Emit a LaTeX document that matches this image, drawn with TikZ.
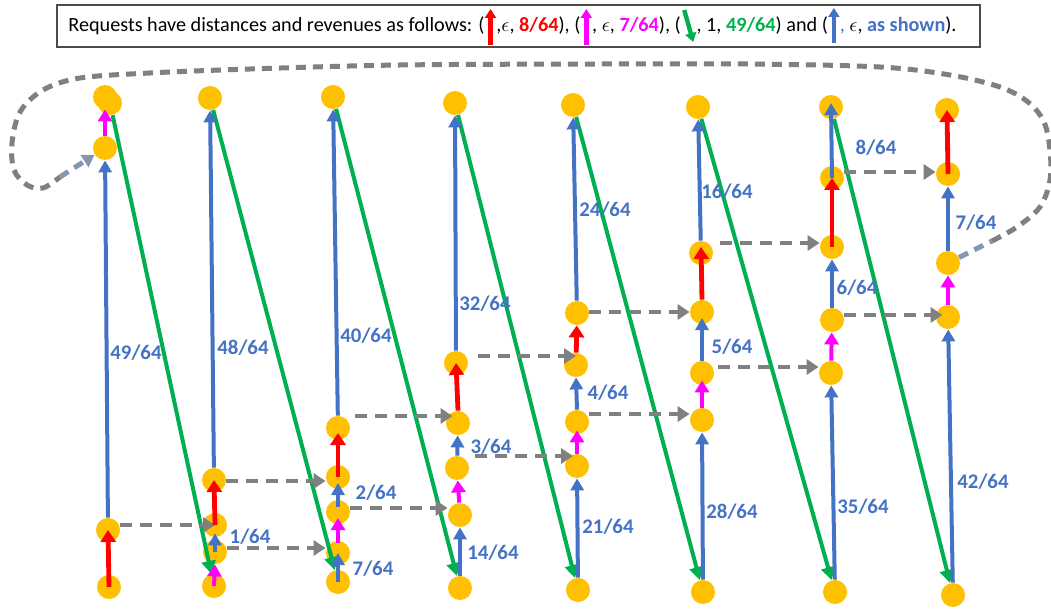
\documentclass[tikz,border=0pt]{standalone}
\usepackage{fontspec}
\setmainfont{Carlito}
\usetikzlibrary{arrows.meta}
\definecolor{gold}{HTML}{FFC000}
\definecolor{bl}{HTML}{4472C4}
\definecolor{gr}{HTML}{00B050}
\definecolor{mg}{HTML}{FF00FF}
\definecolor{rd}{HTML}{FF0000}
\definecolor{gy}{HTML}{808080}
\definecolor{sl}{HTML}{8497B0}
\begin{document}
\begin{tikzpicture}[x=0.5pt,y=-0.5pt,
 dot/.style={circle,fill=gold,inner sep=0pt,minimum size=12pt},
 tipA/.style={-{Triangle[length=6pt,width=6.5pt]}},
 bluearr/.style={draw=bl,line width=2pt,tipA},
 greenarr/.style={draw=gr,line width=2pt,-{Triangle[length=6.5pt,width=7pt]}},
 redarr/.style={draw=rd,line width=2.4pt,-{Triangle[length=6pt,width=7.5pt]}},
 magarr/.style={draw=mg,line width=2pt,-{Triangle[length=6pt,width=7pt]}},
 grayarr/.style={draw=gy,line width=2.2pt,dash pattern=on 6pt off 4pt,-{Triangle[length=6pt,width=7.5pt]}},
 curvedash/.style={draw=gy,line width=2.5pt,dash pattern=on 5pt off 3.5pt},
 slatedash/.style={draw=sl,line width=2.5pt,dash pattern=on 5pt off 3.5pt},
 lab/.style={text=bl,font=\fontsize{10.4pt}{12pt}\selectfont\bfseries,inner sep=0pt},
 lt/.style={font=\fontsize{10.1pt}{12pt}\selectfont,inner sep=0pt,anchor=base west},
 legtip/.style={-{Triangle[length=4.5pt,width=5.5pt]}},
]
\useasboundingbox (0,0) rectangle (1051,610);

% legend
\node[draw=gray!60!black,line width=0.7pt,minimum width=461.5pt,minimum height=21pt,inner sep=0pt] (legend) at (518.5,26) {};
\node[lt] (t1) at (68,32) {Requests have distances and revenues as follows: (};
\node[lt] (t2) at ([xshift=5.5pt]t1.base east) {,$\epsilon$, \textcolor{rd}{\bfseries 8/64}), (};
\node[lt] (t3) at ([xshift=5.5pt]t2.base east) {, $\epsilon$, \textcolor{mg}{\bfseries 7/64}), (};
\node[lt] (t4) at ([xshift=7.5pt]t3.base east) {, 1, \textcolor{gr}{\bfseries 49/64}) and (};
\node[lt] (t5) at ([xshift=5.5pt]t4.base east) {\textcolor{bl}{,} $\epsilon$, \textcolor{bl}{\bfseries as shown}).};
\draw[draw=rd,line width=2.2pt,legtip] ([shift={(5.5,13)}]t1.base east) -- ([shift={(5.5,-23)}]t1.base east);
\draw[draw=mg,line width=2.2pt,legtip] ([shift={(5.5,13)}]t2.base east) -- ([shift={(5.5,-23)}]t2.base east);
\draw[draw=gr,line width=2.2pt,legtip] ([shift={(3,-22)}]t3.base east) -- ([shift={(12,10)}]t3.base east);
\draw[draw=bl,line width=2.2pt,legtip] ([shift={(5.5,11)}]t4.base east) -- ([shift={(5.5,-24)}]t4.base east);

% nodes
\foreach \n/\x/\y in {A1/109/587,A2/108/530,A3/105/148,A4/105/97,A4x/110/103,
  B1/214/586,B2/215/552,B3/215/525,B4/214/480,B5/210/98,
  C1/338/582,C2/338/553,C3/338/512,C4/338/477,C5/338/428,C6/333/97,
  D1/460/588,D2/460/515,D3/457/468,D4/458/423,D5/456/363,D6/455/103,
  E1/578/590,E2/577/466,E3/577/422,E4/576/365,E5/577/313,E6/573/105,
  F1/703/592,F2/702/420,F3/702/373,F4/702/312,F5/701/253,F6/698/107,
  G1/835/592,G2/831/373,G3/832/320,G4/832/247,G5/832/178,G6/831/107,
  H1/953/595,H2/948/317,H3/948/263,H4/948/174,H5/947/110}
  \node[dot] (\n) at (\x,\y) {};

% green
\foreach \a/\b in {A4x/B1,B5/C1,C6/D1,D6/E1,E6/F1,F6/G1,G6/H1}
  \draw[greenarr] (\a) -- (\b);

% long blue
\foreach \a/\b in {A2/A3,B4/B5,C5/C6,D5/D6,E5/E6,F5/F6,D1/D2,E1/E2,F1/F2,G1/G2,H1/H2}
  \draw[bluearr] (\a) -- (\b);
\draw[bluearr] (G5.center) -- ([yshift=2pt]G6.center);

% gray dashed
\draw[grayarr] (A2.east|-0,525) -- (B3.center|-0,525);
\draw[grayarr] (B2.east|-0,548) -- (C2.west|-0,548);
\draw[grayarr] (B4.east|-0,481) -- (C4.west|-0,481);
\draw[grayarr] (C3.east|-0,508) -- (D2.west|-0,508);
\draw[grayarr,shorten <=2.5pt,shorten >=-3.5pt] (C5.east|-0,416) -- (D4.west|-0,416);
\draw[grayarr,shorten <=3pt,shorten >=2pt] (D3.east|-0,456) -- (E2.center|-0,456);
\draw[grayarr,shorten <=5pt] (D5.east|-0,356) -- (E4.center|-0,356);
\draw[grayarr] (E3.east|-0,414) -- (F2.west|-0,414);
\draw[grayarr] (E5.east|-0,312) -- (F4.west|-0,312);
\draw[grayarr,shorten <=2pt] (F3.east|-0,367) -- (G2.west|-0,367);
\draw[grayarr,shorten <=3.5pt] (F5.east|-0,243) -- (G4.west|-0,243);
\draw[grayarr,shorten >=-3.5pt] (G3.east|-0,315) -- (H2.west|-0,315);
\draw[grayarr] (G5.east|-0,172) -- (H4.west|-0,172);

% short blue
\draw[bluearr] (B2.center) -- ([yshift=2pt]B3.south);
\draw[bluearr] (C1.center) -- (C2.center);
\draw[bluearr] ([yshift=2.5pt]C3.center) -- ([yshift=-3pt]C4.center);
\draw[bluearr] (D3) -- (D4);
\draw[bluearr] (E3.north) -- (E4.south);
\draw[bluearr] (F3.north) -- ([yshift=-3pt]F4.center);
\draw[bluearr] (G3) -- (G4);
\draw[bluearr] (H3) -- (H4);
% magenta
\draw[magarr] (A3) -- (A4);
\draw[magarr] (B1.center) -- (B2.south);
\draw[magarr] ([yshift=5pt]C2.center) -- ([yshift=-3pt]C3.center);
\draw[magarr] (D2) -- (D3);
\draw[magarr] (E2.north) -- ([yshift=2pt]E3.south);
\draw[magarr] (F2.north) -- ([yshift=2.5pt]F3.south);
\draw[magarr] (G2) -- (G3);
\draw[magarr] (H2) -- (H3);
% red
\draw[redarr] (A1.center) -- (A2.center);
\draw[redarr] (B3.center) -- (B4.center);
\draw[redarr] (C4.center) -- ([yshift=-2.5pt]C5.center);
\draw[redarr] (D4.north) -- (D5.center);
\draw[redarr] (E4) -- (E5);
\draw[redarr] (F4.north) -- ([yshift=3pt]F5.center);
\draw[redarr] (G4.center) -- (G5.center);
\draw[redarr] (H4.center) -- (H5.center);

% loop curve
\coordinate (c1) at (992,241);
\coordinate (c2) at (60,177);
\draw[slatedash] (H3) -- (c1);
\draw[curvedash] plot[smooth,tension=0.55] coordinates {(c1) (1017,227) (1040,207) (1050,180) (1050,150) (1044,122) (1028,102) (1000,87) (950,75) (880,67) (750,64) (600,64) (400,65) (250,69) (150,73) (80,78) (43,90) (20,112) (12,143) (14,170) (27,185) (43,188) (c2)};
\draw[slatedash,-{Triangle[length=6pt,width=7pt]}] (c2) -- (A3);

% labels
\node[lab] (l49) at (136,353) {49/64};
\node[lab] (l48) at (243,348) {48/64};
\node[lab] (l40) at (366,336) {40/64};
\node[lab] (l1) at (250,537) {1/64};
\node[lab] (l2) at (376,493) {2/64};
\node[lab] (l7a) at (373,569) {7/64};
\node[lab] (l14) at (493,553) {14/64};
\node[lab] (l3) at (491,447) {3/64};
\node[lab] (l32) at (485,304) {32/64};
\node[lab] (l21) at (608,527) {21/64};
\node[lab] (l4) at (608,393) {4/64};
\node[lab] (l24) at (605,210) {24/64};
\node[lab] (l16) at (727,192) {16/64};
\node[lab] (l5) at (732,347) {5/64};
\node[lab] (l28) at (732,512) {28/64};
\node[lab] (l6) at (857,288) {6/64};
\node[lab] (l8) at (876,148) {8/64};
\node[lab] (l35) at (863,507) {35/64};
\node[lab] (l7b) at (976,223) {7/64};
\node[lab] (l42) at (983,482) {42/64};
\end{tikzpicture}
\end{document}
